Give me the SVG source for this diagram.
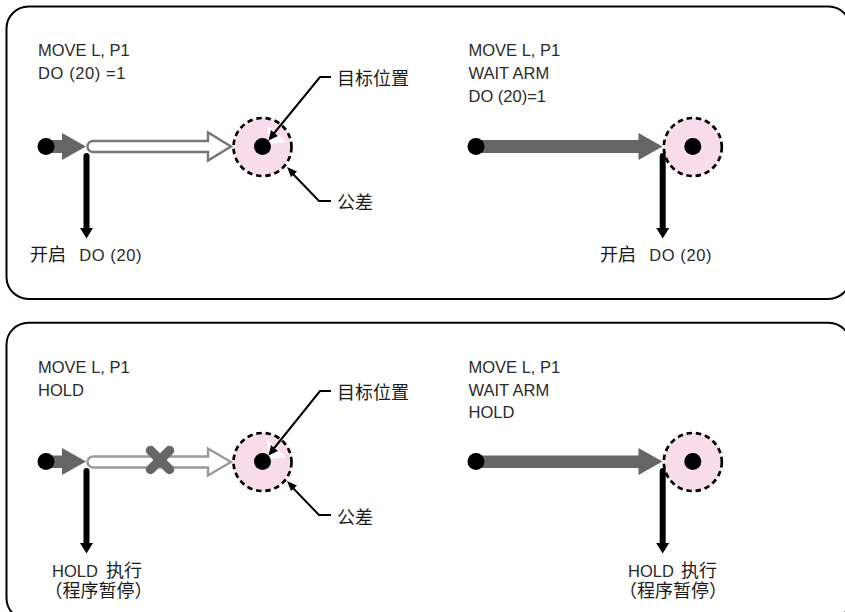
<svg xmlns="http://www.w3.org/2000/svg" width="845" height="612" viewBox="0 0 845 612">
<style>
text{font-family:"Liberation Sans","Noto Sans CJK SC",sans-serif;font-size:16.5px;fill:#2a2a2a}
.cjk{font-family:"Noto Sans CJK SC","Noto Sans CJK JP",sans-serif;font-size:18px;fill:#1a1a1a}
.wide{letter-spacing:.6px}
.panel{fill:#fff;stroke:#000;stroke-width:2}
.zone{fill:#f9dcea;stroke:#000;stroke-width:2.700;stroke-dasharray:5.500 3.800}
.dot{fill:#000}
.fat{fill:#666}
.hollow{fill:#fff;stroke:#777;stroke-width:2.400}
.hollow2{fill:#fff;stroke:#999;stroke-width:2.400}
.down{fill:none;stroke:#000;stroke-width:6;stroke-linecap:round}
.lead{fill:none;stroke:#000;stroke-width:2}
.gap{fill:#fff}
</style>
<defs>
<path id="head" d="M-6.500 -10.500H6.500L0 0Z" fill="#000"/>
</defs>
<g id="panel-top"><rect class="panel" x="6.500" y="6.500" width="844" height="292.500" rx="22"/></g>
<g id="panel-bottom"><rect class="panel" x="6.500" y="322.700" width="844" height="297.300" rx="22"/></g>
<g id="node-target-1"><circle class="zone" cx="262.500" cy="147" r="29"/><path class="gap" d="M267 125L286 142L270 144Z"/><circle class="dot" cx="262.500" cy="146.500" r="8.500"/></g>
<g id="node-target-2"><circle class="zone" cx="692.800" cy="147" r="29"/><circle class="dot" cx="692.800" cy="146.500" r="8.500"/></g>
<g id="node-target-3"><circle class="zone" cx="262.500" cy="462" r="29"/><path class="gap" d="M267 440L286 457L270 459Z"/><circle class="dot" cx="262.500" cy="461.500" r="8.500"/></g>
<g id="node-target-4"><circle class="zone" cx="692.800" cy="462" r="29"/><circle class="dot" cx="692.800" cy="461.500" r="8.500"/></g>
<g id="connectors">
<path class="hollow" d="M93 141H208V132.500L231 146.500L208 160.500V152H93A5.500 5.500 0 0 1 93 141Z"/>
<path class="fat" d="M46 140H62V133L86 146.500L62 160V153H46Z"/>
<path class="down" d="M86.500 156V228"/><use href="#head" x="86.500" y="238.500"/>
<path class="fat" d="M476 140H638.500V133L662.500 146.500L638.500 160V153H476Z"/>
<path class="down" d="M662.700 156V228"/><use href="#head" x="662.700" y="238.500"/>
<path class="lead" d="M331 77H320L271 137"/>
<path d="M268.500 140.500L271 130L278 136Z" fill="#000"/>
<path class="lead" d="M331 201H319L292 173"/>
<path d="M287 167L297 171.500L291 177Z" fill="#000"/>
<path class="hollow2" d="M93 456.500H208V448.500L231 462L208 475.500V467.500H93A5.500 5.500 0 0 1 93 456.500Z"/>
<path class="fat" d="M46 455.500H62V448L86 461.500L62 475V468H46Z"/>
<path class="down" d="M86.500 471V542"/><use href="#head" x="86.500" y="553.500"/>
<path d="M150.500 450.500L169.500 469.500M169.500 450.500L150.500 469.500" fill="none" stroke="#666" stroke-width="9.500" stroke-linecap="round"/>
<path class="fat" d="M476 455.500H638.500V448L662.500 461.500L638.500 475V468H476Z"/>
<path class="down" d="M662.700 471V542"/><use href="#head" x="662.700" y="553.500"/>
<path class="lead" d="M331 391H320L271 452"/>
<path d="M268.500 455.500L271 445L278 451Z" fill="#000"/>
<path class="lead" d="M331 515H319L292 487"/>
<path d="M287 481L297 485.500L291 491Z" fill="#000"/>
<circle class="dot" cx="46" cy="146.500" r="8.500"/>
<circle class="dot" cx="476" cy="146.500" r="8.500"/>
<circle class="dot" cx="46" cy="461.500" r="8.500"/>
<circle class="dot" cx="476" cy="461.500" r="8.500"/>
</g>
<g id="labels">
<text x="38" y="56">MOVE L, P1</text>
<text class="wide" x="38" y="78.500">DO (20) =1</text>
<text class="cjk" x="337" y="85">目标位置</text>
<text class="cjk" x="337" y="209">公差</text>
<text y="261"><tspan class="cjk" x="30">开启</tspan><tspan class="wide" x="74"> DO (20)</tspan></text>
<text x="468.500" y="56">MOVE L, P1</text>
<text x="468.500" y="79">WAIT ARM</text>
<text x="468.500" y="102">DO (20)=1</text>
<text y="261"><tspan class="cjk" x="600">开启</tspan><tspan class="wide" x="644"> DO (20)</tspan></text>
<text x="38" y="373">MOVE L, P1</text>
<text x="38" y="396">HOLD</text>
<text class="cjk" x="337" y="399">目标位置</text>
<text class="cjk" x="337" y="524">公差</text>
<text y="576.500"><tspan x="52">HOLD </tspan><tspan class="cjk" x="106">执行</tspan><tspan class="cjk" x="44.500" y="597">（程序暂停）</tspan></text>
<text x="468.500" y="373">MOVE L, P1</text>
<text x="468.500" y="396">WAIT ARM</text>
<text x="468.500" y="418">HOLD</text>
<text y="576.500"><tspan x="628">HOLD </tspan><tspan class="cjk" x="681">执行</tspan><tspan class="cjk" x="619" y="597">（程序暂停）</tspan></text>
</g>
</svg>
